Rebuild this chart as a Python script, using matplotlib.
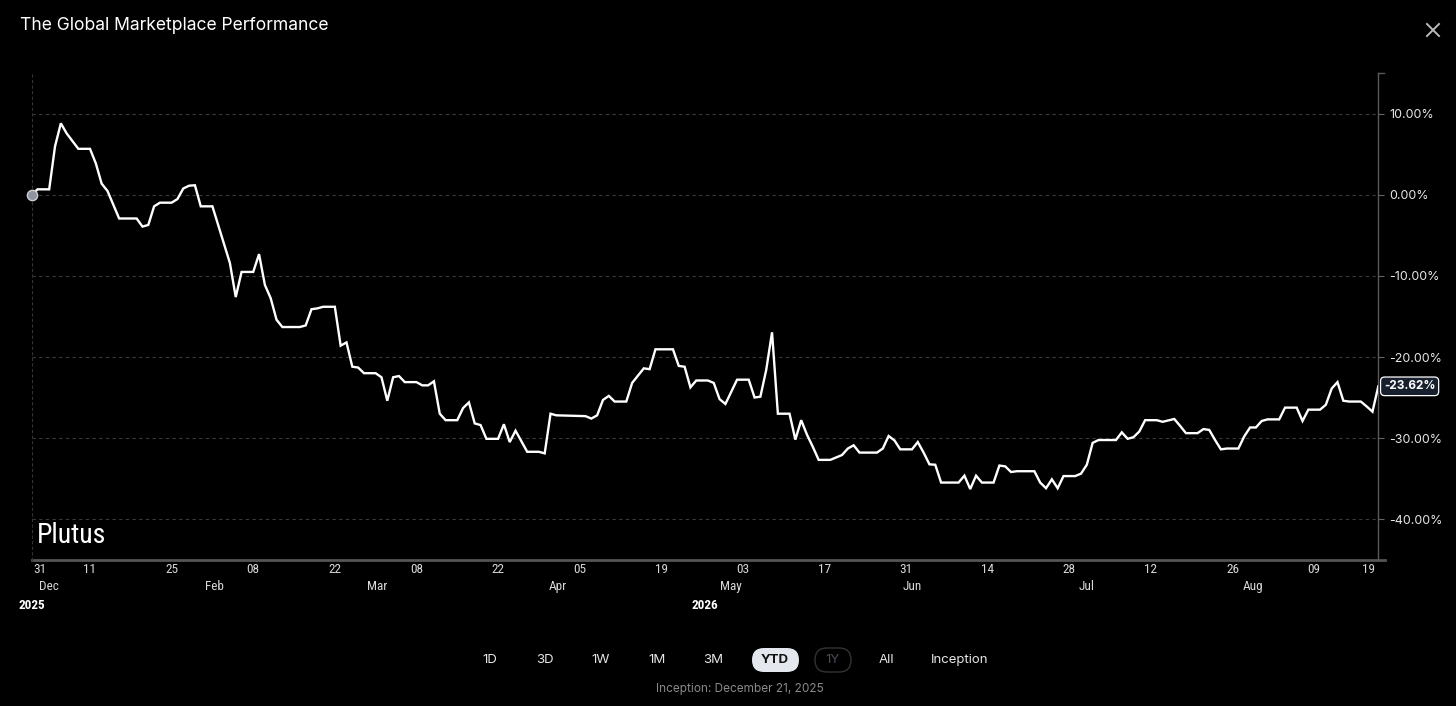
import matplotlib
matplotlib.use("Agg")
import matplotlib.pyplot as plt
from matplotlib import font_manager
from matplotlib.patches import FancyBboxPatch
from matplotlib.lines import Line2D
from matplotlib.transforms import IdentityTransform

# trading-day index since start of the year view, and performance in %
day_idx = [0, 1, 3, 4, 5, 6, 8, 10, 11, 12, 13, 15, 18, 19, 20, 21, 22, 24, 25, 26,
           27, 28, 29, 31, 34, 35, 36, 38, 39, 40, 41, 42, 43, 46, 47, 48, 49, 50, 52, 53,
           54, 55, 56, 57, 59, 60, 61, 62, 63, 64, 66, 67, 68, 69, 70, 71, 73, 74, 75, 76,
           77, 78, 80, 81, 82, 83, 85, 87, 88, 89, 90, 95, 96, 97, 98, 99, 100, 102, 103, 105,
           106, 107, 110, 111, 112, 113, 114, 116, 117, 118, 119, 121, 123, 124, 125, 126, 127, 128, 130, 131,
           132, 133, 134, 135, 137, 138, 139, 140, 141, 142, 145, 146, 147, 148, 149, 151, 152, 153, 154, 155,
           156, 159, 160, 161, 162, 163, 165, 166, 167, 168, 169, 172, 173, 174, 175, 176, 177, 179, 180, 181,
           182, 183, 186, 187, 188, 189, 190, 191, 193, 194, 196, 197, 198, 200, 201, 202, 203, 204, 205, 207,
           208, 209, 210, 211, 212, 214, 215, 217, 218, 219, 221, 222, 223, 224, 225, 226, 228, 229, 230, 231]
perf = [0.0, 0.7, 0.7, 6.0, 8.85, 7.6, 5.7, 5.7, 3.9, 1.4, 0.5, -2.9, -2.9, -3.9, -3.7, -1.4, -0.95, -0.95, -0.5, 0.8,
        1.15, 1.2, -1.4, -1.4, -8.4, -12.6, -9.5, -9.5, -7.3, -11.1, -12.75, -15.4, -16.3, -16.3, -16.1, -14.1, -14.0, -13.8, -13.8, -18.6,
        -18.2, -21.2, -21.3, -22.0, -22.0, -22.5, -25.4, -22.5, -22.35, -23.1, -23.1, -23.5, -23.5, -23.0, -27.0, -27.8, -27.8, -26.3, -25.6, -28.2,
        -28.4, -30.1, -30.1, -28.3, -30.5, -29.1, -31.7, -31.7, -31.9, -27.0, -27.2, -27.3, -27.6, -27.2, -25.3, -24.8, -25.5, -25.5, -23.2, -21.4,
        -21.5, -19.05, -19.05, -21.1, -21.2, -23.75, -22.9, -22.9, -23.2, -25.2, -25.8, -22.8, -22.8, -25.0, -24.9, -21.6, -16.95, -27.0, -27.0, -30.2,
        -27.8, -29.6, -31.1, -32.7, -32.7, -32.4, -32.1, -31.3, -30.9, -31.8, -31.8, -31.3, -29.75, -30.3, -31.4, -31.4, -30.5, -31.8, -33.25, -33.3,
        -35.5, -35.5, -34.65, -36.3, -34.65, -35.5, -35.5, -33.4, -33.5, -34.2, -34.1, -34.1, -35.5, -36.2, -35.1, -36.2, -34.7, -34.7, -34.4, -33.3,
        -30.6, -30.25, -30.25, -29.3, -30.1, -29.9, -29.2, -27.8, -27.8, -28.0, -27.65, -28.5, -29.4, -29.4, -28.9, -29.0, -30.25, -31.4, -31.3, -31.3,
        -29.8, -28.7, -28.7, -27.9, -27.7, -27.7, -26.25, -26.25, -27.9, -26.5, -26.5, -25.9, -23.9, -23.1, -25.4, -25.5, -25.5, -26.1, -26.75, -23.62]
assert len(day_idx) == len(perf)

tick_pos = [1.4, 10, 24, 38, 52, 66, 80, 94, 108, 122, 136, 150, 164, 178, 192, 206, 220, 229.4]
tick_days = ["31", "11", "25", "08", "22", "08", "22", "05", "19", "03", "17", "31", "14", "28", "12", "26", "09", "19"]
month_pos = [3, 31.3, 59.2, 90.3, 120, 151, 181, 209.5]
months = ["Dec", "Feb", "Mar", "Apr", "May", "Jun", "Jul", "Aug"]
year_pos = [0, 115.5]
years = ["2025", "2026"]
y_ticks = [10, 0, -10, -20, -30, -40]
ranges = ["1D", "3D", "1W", "1M", "3M", "YTD", "1Y", "All", "Inception"]
last_value = perf[-1]

W, H = 1456, 706
BG = "black"
UI = ["Inter", "DejaVu Sans"]


def pick_font(names):
    for n in names:
        try:
            font_manager.findfont(n, fallback_to_default=False)
            return n
        except Exception:
            pass
    return "DejaVu Sans"


narrow_ok = pick_font(["Liberation Sans Narrow", "Roboto Condensed", "Arial Narrow"]) != "DejaVu Sans"
NARROW = [pick_font(["Liberation Sans Narrow", "Roboto Condensed", "Arial Narrow", "Liberation Sans"]), "DejaVu Sans"]


def fx(px):
    return px / W


def fy(py):
    return 1 - py / H


fig = plt.figure(figsize=(W / 100, H / 100), dpi=100, facecolor=BG)
ax = fig.add_axes([fx(31.7), fy(560), (1378.3 - 31.7) / W, (560 - 73) / H], facecolor=BG)

ax.plot(day_idx, perf, color="white", lw=1.7, solid_joinstyle="miter", zorder=3)
ax.scatter([day_idx[0]], [perf[0]], s=55, color="#8f959e", edgecolor="#c9ced6", lw=1, zorder=4, clip_on=False)

ax.set_xlim(0, day_idx[-1])
ax.set_ylim(-45.06, 15.06)

# y axis on the right
ax.yaxis.tick_right()
ax.set_yticks(y_ticks)
ax.set_yticklabels([f"{v:.2f}%" for v in y_ticks], fontsize=9, color="#e6e6e6", family=UI)
ax.tick_params(axis="y", length=4, width=0.8, color="#666666", pad=4)
ax.grid(axis="y", color="#3a3a3a", lw=0.8, linestyle=(0, (3, 3)))

# x ticks: day numbers, then months and years underneath
small = 9.5 if narrow_ok else 8.2
ax.set_xticks(tick_pos)
ax.set_xticklabels(tick_days, fontsize=small, color="#d8d8d8", family=NARROW)
ax.tick_params(axis="x", length=0, pad=2)
tr = ax.get_xaxis_transform()
for p, m in zip(month_pos, months):
    ax.text(p, -0.054, m, transform=tr, ha="center", va="center", fontsize=small,
            color="#d8d8d8", family=NARROW)
for p, yv in zip(year_pos, years):
    ax.text(p, -0.093, yv, transform=tr, ha="center", va="center", fontsize=small,
            color="white", fontweight="bold", family=NARROW)

ax.spines["top"].set_visible(False)
ax.spines["left"].set_color("#333333")
ax.spines["left"].set_linestyle((0, (2, 3)))
ax.spines["left"].set_linewidth(0.8)
ax.spines["right"].set_color("#5a5a5a")
ax.spines["right"].set_linewidth(1)
ax.spines["bottom"].set_visible(False)
ax.plot([0, 1.005], [0, 0], transform=ax.transAxes, color="#555555", lw=2, clip_on=False)
ax.plot([1, 1.004], [1, 1], transform=ax.transAxes, color="#5a5a5a", lw=1, clip_on=False)

# last value badge
ax.annotate(f"{last_value:.2f}%", xy=(1, last_value), xycoords=("axes fraction", "data"),
            xytext=(4, 0), textcoords="offset points", ha="left", va="center",
            fontsize=8.5, color="white", fontweight="bold", family=UI,
            bbox=dict(boxstyle="round,pad=0.28,rounding_size=0.35", fc="#18202e", ec="white", lw=0.9))

# watermark
ax.text(0.004, 0.05, "Plutus", transform=ax.transAxes, ha="left", va="center",
        fontsize=20 if narrow_ok else 18.5, color="white", family=NARROW)

# title and close icon
fig.text(fx(20), fy(25), "The Global Marketplace Performance", ha="left", va="center",
         fontsize=12.6, color="white", family=UI)
fig.add_artist(Line2D([fx(1427), fx(1439)], [fy(24), fy(36)], color="#bbbbbb", lw=1.4))
fig.add_artist(Line2D([fx(1427), fx(1439)], [fy(36), fy(24)], color="#bbbbbb", lw=1.4))

# range selector (pills drawn in pixel units)
range_px = [490, 545, 601, 657, 713, 775, 833, 886, 960]
fig.add_artist(FancyBboxPatch((752, H - 672), 47, 24, boxstyle="round,pad=0,rounding_size=12",
                              fc="#e4e8ee", ec="none", transform=IdentityTransform()))
fig.add_artist(FancyBboxPatch((815, H - 672), 36, 24, boxstyle="round,pad=0,rounding_size=12",
                              fc="none", ec="#333333", lw=1, transform=IdentityTransform()))
for px, lab in zip(range_px, ranges):
    col = "#e6e6e6"
    weight = "normal"
    if lab == "YTD":
        col, weight = "#111111", "bold"
    elif lab == "1Y":
        col = "#4a4f58"
    fig.text(fx(px), fy(660), lab, ha="center", va="center", fontsize=9.5, color=col,
             fontweight=weight, family=UI)
fig.text(fx(740), fy(689), "Inception: December 21, 2025", ha="center", va="center",
         fontsize=8.5, color="#8a8a8a", family=UI)

fig.savefig("out.png", dpi=100, facecolor=BG)
